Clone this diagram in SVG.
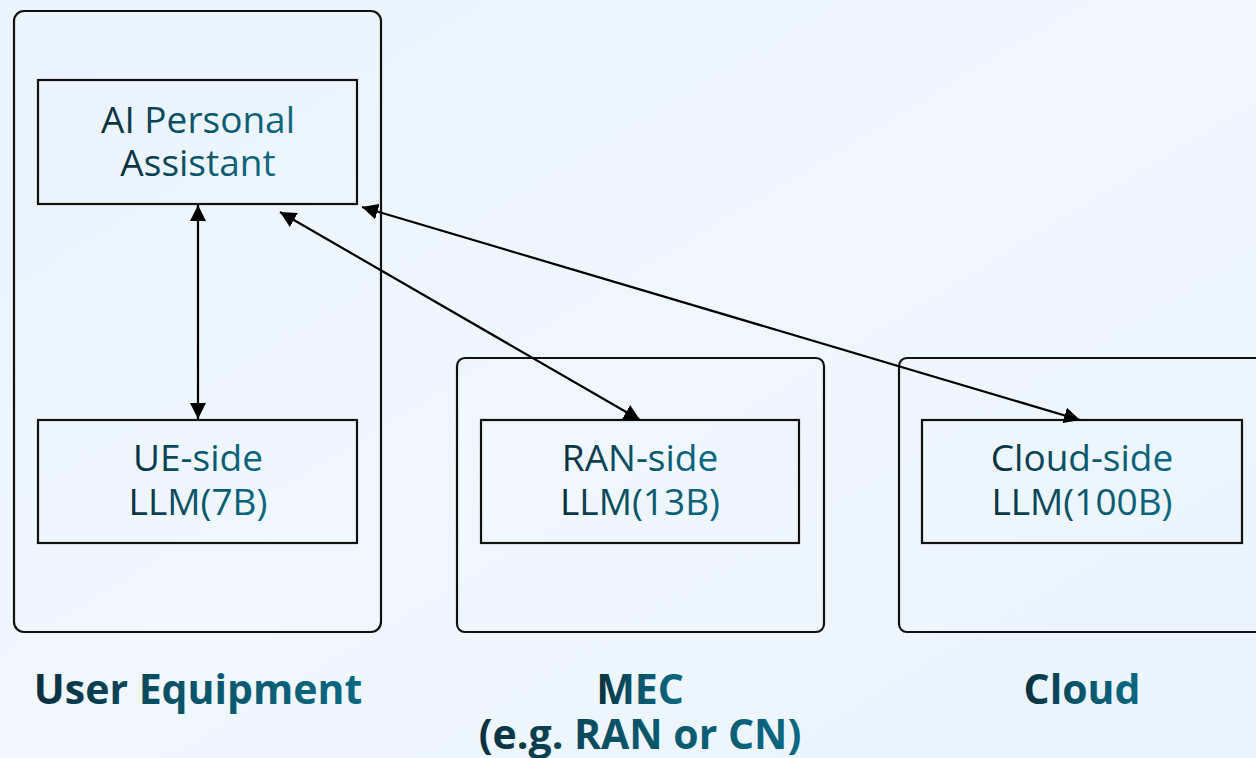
<svg xmlns="http://www.w3.org/2000/svg" width="1256" height="758" viewBox="0 0 1256 758">
<defs>
<linearGradient id="bg" x1="0" y1="0" x2="1" y2="1">
<stop offset="0" stop-color="#eaf4fd"/>
<stop offset="0.5" stop-color="#f0f7fe"/>
<stop offset="1" stop-color="#eaf4fd"/>
</linearGradient>
<linearGradient id="tg" x1="0" y1="0" x2="1" y2="0">
<stop offset="0" stop-color="#08303f"/>
<stop offset="0.45" stop-color="#0a5468"/>
<stop offset="1" stop-color="#0b6883"/>
</linearGradient>
<marker id="ah" viewBox="0 0 10 10" refX="10" refY="5" markerWidth="16" markerHeight="16" markerUnits="userSpaceOnUse" orient="auto-start-reverse">
<path d="M0,0 L10,5 L0,10 z" fill="#000"/>
</marker>
<style>
.outer{fill:none;stroke:#111;stroke-width:2.2}
.box{fill:none;stroke:#111;stroke-width:2.2}
.t{font-family:"Open Sans","Noto Sans",sans-serif;font-size:37px;fill:url(#tg);text-anchor:middle}
.lb{font-family:"Open Sans","Noto Sans",sans-serif;font-size:41px;font-weight:bold;fill:url(#tg);text-anchor:middle}
.c{fill:none;stroke:#000;stroke-width:2.2;marker-start:url(#ah);marker-end:url(#ah)}
</style>
</defs>
<rect width="1256" height="758" fill="url(#bg)"/>
<g id="ue">
<rect class="outer" x="14" y="11" width="367" height="621" rx="10"/>
</g>
<g id="mec">
<rect class="outer" x="457" y="358" width="367" height="274" rx="8"/>
</g>
<g id="cloud">
<rect class="outer" x="899" y="358" width="380" height="274" rx="8"/>
</g>
<g id="assistant">
<rect class="box" x="38" y="80" width="319" height="124"/>
<text class="t" x="198" y="133">AI Personal</text>
<text class="t" x="198" y="176">Assistant</text>
</g>
<g id="ue-llm">
<rect class="box" x="38" y="420" width="319" height="123"/>
<text class="t" x="198" y="471">UE-side</text>
<text class="t" x="198" y="515">LLM(7B)</text>
</g>
<g id="ran-llm">
<rect class="box" x="481" y="420" width="318" height="123"/>
<text class="t" x="640" y="471">RAN-side</text>
<text class="t" x="640" y="515">LLM(13B)</text>
</g>
<g id="cloud-llm">
<rect class="box" x="922" y="420" width="320" height="123"/>
<text class="t" x="1082" y="471">Cloud-side</text>
<text class="t" x="1082" y="515">LLM(100B)</text>
</g>
<g id="labels">
<text class="lb" x="198" y="704">User Equipment</text>
<text class="lb" x="640" y="704">MEC</text>
<text class="lb" x="640" y="749">(e.g. RAN or CN)</text>
<text class="lb" x="1082" y="704">Cloud</text>
</g>
<g id="connectors">
<line class="c" x1="198" y1="205" x2="198" y2="419"/>
<line class="c" x1="280" y1="212" x2="640" y2="420"/>
<line class="c" x1="362" y1="207" x2="1080" y2="420"/>
</g>
</svg>
